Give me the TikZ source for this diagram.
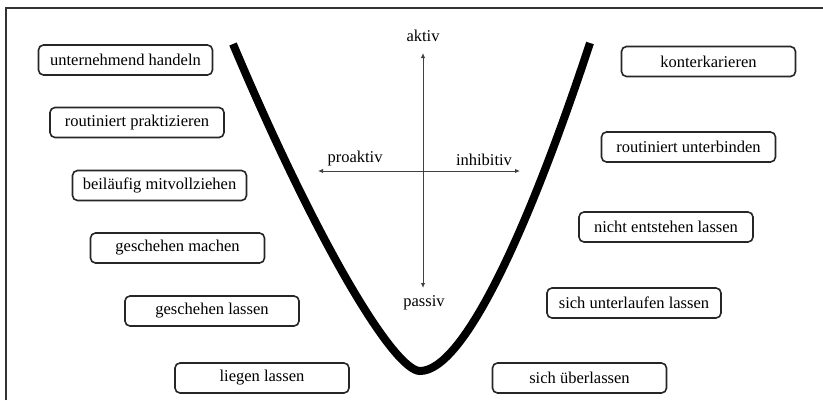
\documentclass[tikz,border=0pt]{standalone}
\usepackage{fontspec}
\setmainfont{Liberation Serif}
\usetikzlibrary{arrows.meta}

\tikzset{
  verb/.style={draw=black!85, line width=1.6pt, rounded corners=5pt,
    minimum width=174pt, minimum height=30pt, inner sep=0pt,
    font=\fontsize{16.5}{19}\selectfont},
  axislabel/.style={font=\fontsize{16.5}{19}\selectfont, inner sep=0pt},
  axis/.style={draw=black!75, line width=1pt,
    {Latex[length=5pt,width=4.5pt]}-{Latex[length=5pt,width=4.5pt]}},
  frameline/.style={draw=black!80, line width=2pt},
  valley/.style={line width=8pt, black}
}

\begin{document}
\begin{tikzpicture}[x=1pt, y=-1pt]
  \useasboundingbox (0,0) rectangle (823,400);

  % open frame: top edge and left edge
  \coordinate (fl) at (5.5,400);
  \coordinate (fc) at (5.5,7.5);
  \coordinate (fr) at (823,7.5);
  \draw[frameline] (fl) -- (fc) -- (fr);

  % activity axes
  \coordinate (up) at (423,53);
  \coordinate (down) at (423,288);
  \coordinate (left) at (318,171);
  \coordinate (right) at (520,171);
  \draw[axis] (down) -- (up);
  \draw[axis] (left) -- (right);

  \node[axislabel] (aktiv) at (423,36) {aktiv};
  \node[axislabel] (passiv) at (424,303) {passiv};
  \node[axislabel] (proaktiv) at (355,159) {proaktiv};
  \node[axislabel] (inhibitiv) at (484,160) {inhibitiv};

  % the valley curve
  \coordinate (vl) at (233,44);
  \coordinate (vb) at (420,371);
  \coordinate (vr) at (590,43);
  \draw[valley] (vl) .. controls (320,250) and (395,371) .. (vb)
                     .. controls (462,371) and (525,240) .. (vr);

  % left-hand (proactive) verbs
  \node[verb] (l1) at (125.5,60)  {unternehmend handeln};
  \node[verb] (l2) at (137,122.5) {routiniert praktizieren};
  \node[verb] (l3) at (159.5,185.5) {beiläufig mitvollziehen};
  \node[verb] (l4) at (177.5,248) {geschehen machen};
  \node[verb] (l5) at (212,311)   {geschehen lassen};
  \node[verb] (l6) at (262,378)   {liegen lassen};

  % right-hand (inhibitive) verbs
  \node[verb] (r1) at (708.5,61.5) {konterkarieren};
  \node[verb] (r2) at (688.5,147)  {routiniert unterbinden};
  \node[verb] (r3) at (666,227)    {nicht entstehen lassen};
  \node[verb] (r4) at (634,303)    {sich unterlaufen lassen};
  \node[verb] (r5) at (579.5,378)  {sich überlassen};
\end{tikzpicture}
\end{document}
